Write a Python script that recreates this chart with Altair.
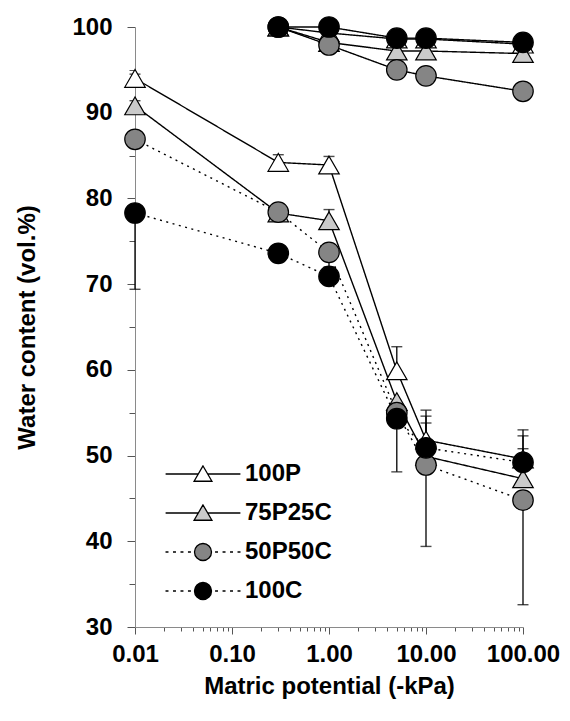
import altair as alt
import pandas as pd

# ---------------- data ----------------
series_names = ["100P", "75P25C", "50P50C", "100C"]

kpa = [0.01, 0.3, 1, 5, 10, 100]
wc_100P = [94.0, 84.2, 83.9, 59.9, 51.8, 49.6]
wc_75P25C = [90.8, 78.3, 77.4, 56.3, 49.9, 47.3]
wc_50P50C = [86.9, 78.4, 73.7, 55.0, 48.9, 44.8]
wc_100C = [78.3, 73.6, 70.9, 54.3, 50.9, 49.2]

err_up_100P = [0.5, 0.9, 1.0, 2.8, 3.5, 3.4]
err_up_75P25C = [0.6, 0.0, 1.3, 0.0, 4.7, 5.0]
err_up_50P50C = [0.0, 0.0, 0.0, 0.0, 0.0, 0.0]
err_up_100C = [0.0, 0.0, 0.0, 0.0, 2.9, 1.6]
err_dn_100P = [0.0, 0.0, 0.0, 0.0, 0.0, 0.0]
err_dn_75P25C = [0.0, 0.0, 0.0, 0.0, 0.0, 0.0]
err_dn_50P50C = [0.0, 0.0, 1.7, 0.0, 9.5, 12.2]
err_dn_100C = [8.9, 0.0, 0.0, 6.2, 0.0, 0.0]

kpa_top = [0.3, 1, 5, 10, 100]
top_100P = [100.0, 99.3, 98.6, 98.6, 98.0]
top_75P25C = [100.0, 98.2, 97.2, 97.2, 96.9]
top_50P50C = [100.0, 97.9, 95.0, 94.3, 92.5]
top_100C = [100.0, 100.0, 98.7, 98.7, 98.2]

y_ticks = [30, 35, 40, 45, 50, 55, 60, 65, 70, 75, 80, 85, 90, 95, 100]

# ---------------- styling ----------------
FONT = "Liberation Sans"
fill_colors = ["white", "#cacaca", "#858585", "black"]
shapes = ["triangle-up", "triangle-up", "circle", "circle"]

# ---------------- tables ----------------
bottom = {"100P": wc_100P, "75P25C": wc_75P25C, "50P50C": wc_50P50C, "100C": wc_100C}
top = {"100P": top_100P, "75P25C": top_75P25C, "50P50C": top_50P50C, "100C": top_100C}
ups = {"100P": err_up_100P, "75P25C": err_up_75P25C, "50P50C": err_up_50P50C, "100C": err_up_100C}
dns = {"100P": err_dn_100P, "75P25C": err_dn_75P25C, "50P50C": err_dn_50P50C, "100C": err_dn_100C}

rows, err_rows, cap_rows = [], [], []
for si, s in enumerate(series_names):
    for x, y in zip(kpa, bottom[s]):
        rows.append({"group": "bottom", "series": s, "sidx": si, "kpa": x, "wc": y, "key": "b-" + s,
                     "shp": shapes[si], "fillc": fill_colors[si]})
    for x, y in zip(kpa_top, top[s]):
        rows.append({"group": "top", "series": s, "sidx": si, "kpa": x, "wc": y, "key": "t-" + s,
                     "shp": shapes[si], "fillc": fill_colors[si]})
    for x, y, u, d in zip(kpa, bottom[s], ups[s], dns[s]):
        if u > 0 or d > 0:
            err_rows.append({"kpa": x, "lo": y - d, "hi": y + u})
        if u > 0:
            cap_rows.append({"kpa": x, "wc": y + u})
        if d > 0:
            cap_rows.append({"kpa": x, "wc": y - d})

df = pd.DataFrame(rows)
err_df = pd.DataFrame(err_rows)
cap_df = pd.DataFrame(cap_rows)

x_vals = []
for d in [0.01, 0.1, 1, 10]:
    for m in range(1, 10):
        x_vals.append(round(d * m, 4))
x_vals.append(100)

major_test_x = "abs(log(datum.value)/LN10 - round(log(datum.value)/LN10)) < 0.000001"
major_test_y = "datum.value % 10 === 0"

x_axis = alt.Axis(
    values=x_vals,
    labelExpr="(" + major_test_x + ") ? format(datum.value, '.2f') : ''",
    tickSize={"condition": {"test": major_test_x, "value": 7}, "value": 4},
    labelFlush=False, labelOverlap=False, labelPadding=8,
    titlePadding=8, grid=False,
)
y_axis = alt.Axis(
    values=y_ticks,
    labelExpr="(" + major_test_y + ") ? datum.label : ''",
    tickSize={"condition": {"test": major_test_y, "value": 8}, "value": 6},
    labelPadding=15, labelOverlap=False, titlePadding=32, grid=False,
)
x_scale = alt.Scale(type="log", domain=[0.01, 100])
y_scale = alt.Scale(domain=[30, 100])
X_TITLE = "Matric potential (-kPa)"
Y_TITLE = "Water content (vol.%)"


def xe():
    return alt.X("kpa:Q", scale=x_scale, axis=x_axis, title=X_TITLE)


def ye(field="wc"):
    return alt.Y(field + ":Q", scale=y_scale, axis=y_axis, title=Y_TITLE)


# legend symbols: custom paths (line + marker); 1 unit = half marker width
def dots(a, b):
    segs = []
    p = a
    while p < b - 0.05:
        q = min(p + 0.35, b)
        segs.append("M%.2f,0 L%.2f,0" % (p, q))
        p += 0.88
    return " ".join(segs)


TRI = "M0,-0.95 L-1.05,0.85 L1.05,0.85 Z"
CIRC = "M1,0 A1,1 0 1,1 -1,0 A1,1 0 1,1 1,0 Z"
solid_tri = "M-4.4,0 L-0.55,0 M0.55,0 L4.4,0 " + TRI
dotted_circ = dots(-4.41, -1.2) + " " + dots(1.42, 4.45) + " " + CIRC
legend_paths = [solid_tri, solid_tri, dotted_circ, dotted_circ]

legend = alt.Legend(
    title=None, orient="none", legendX=56, legendY=435, padding=0,
    labelFont=FONT, labelFontSize=24, labelFontWeight="bold", labelColor="black",
    symbolSize=289, symbolStrokeWidth=1.3, symbolStrokeColor="black",
    labelOffset=30, rowPadding=15,
)

rules = alt.Chart(err_df).mark_rule(color="black", strokeWidth=1.3).encode(
    x=xe(), y=ye("lo"), y2="hi:Q"
)
caps = alt.Chart(cap_df).mark_tick(orient="horizontal", color="black", size=11, thickness=1.4).encode(
    x=xe(), y=ye()
)
lines = alt.Chart(df).transform_calculate(
    style="datum.group === 'bottom' && (datum.series === '50P50C' || datum.series === '100C') ? 'dot' : 'solid'"
).mark_line(color="black", strokeWidth=1.4).encode(
    x=xe(), y=ye(), detail="key:N",
    strokeDash=alt.StrokeDash("style:N", scale=alt.Scale(domain=["solid", "dot"], range=[[1, 0], [2, 4.5]]), legend=None),
    order="kpa:Q",
)
points = alt.Chart(df).mark_point(filled=True, stroke="black", strokeWidth=1.2, opacity=1, size=420).encode(
    x=xe(), y=ye(),
    shape=alt.Shape("shp:N", scale=None),
    fill=alt.Fill("fillc:N", scale=None),
    order=alt.Order("sidx:Q"),
)
legend_layer = alt.Chart(df).transform_filter("false").mark_point(
    filled=True, stroke="black", strokeWidth=1.3, opacity=1
).encode(
    x=xe(), y=ye(),
    shape=alt.Shape("series:N", scale=alt.Scale(domain=series_names, range=legend_paths), legend=legend),
    fill=alt.Fill("series:N", scale=alt.Scale(domain=series_names, range=fill_colors), legend=legend),
)

chart = alt.layer(rules, caps, lines, points, legend_layer).properties(
    width=388, height=600, autosize="none",
    padding={"left": 127, "top": 19, "right": 38, "bottom": 90},
).configure_view(stroke=None).configure_axis(
    labelFont=FONT, labelFontSize=24, labelFontWeight="bold", labelColor="black",
    titleFont=FONT, titleFontSize=24, titleFontWeight="bold", titleColor="black",
    domainColor="#8a8a8a", tickColor="#555555", domainWidth=1, tickWidth=1,
)

chart.save("out.html", embed_options={"renderer": "svg", "actions": False})
